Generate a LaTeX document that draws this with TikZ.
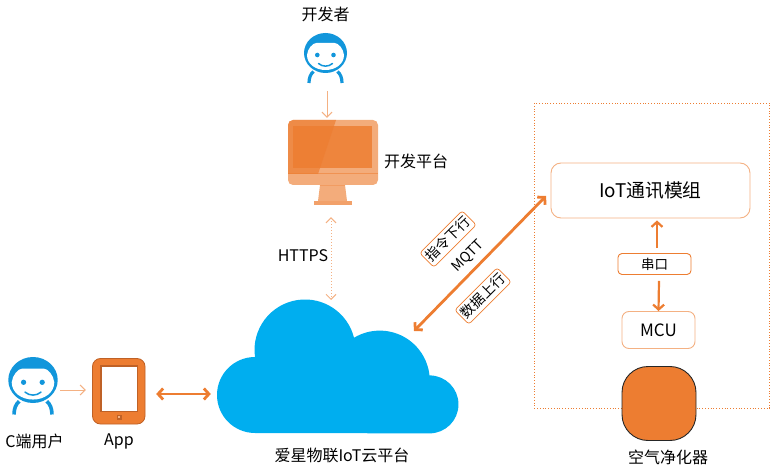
\documentclass[tikz,border=0pt]{standalone}
\usepackage{fontspec}
\setmainfont{Noto Sans CJK SC}
\usetikzlibrary{arrows.meta}
\definecolor{org}{HTML}{ED7D31}
\definecolor{lorg}{HTML}{F4B183}
\definecolor{brn}{HTML}{BF6126}
\definecolor{blu}{HTML}{1296DB}
\definecolor{sky}{HTML}{00AEEF}
\tikzset{
    spot/.style={inner sep=0pt},
    lbl/.style={inner sep=0pt,font=\fontsize{16}{18}\selectfont},
    modbox/.style={draw=lorg,line width=.9pt,fill=white,rounded corners=#1,inner sep=0pt},
    tag/.style={draw=org,line width=.7pt,fill=white,rounded corners=3pt,rotate=45,inner sep=0pt,
        minimum width=60pt,minimum height=20pt,font=\fontsize{14}{15}\selectfont},
    thin arrow/.style={draw=lorg,line width=1pt,-{Straight Barb[length=5pt,width=10pt]}},
    fat arrow/.style={draw=org,line width=2.8pt,{Straight Barb[length=5pt,width=11pt]}-{Straight Barb[length=5pt,width=11pt]}},
    mid arrow/.style={draw=org,line width=2.2pt,-{Straight Barb[length=5pt,width=11pt]}},
    person/.pic={
        \fill[blu] (0,0) ellipse [x radius=21.5,y radius=20];
        \fill[white] (-18.5,2) .. controls (-18,-4) and (-13,-10) .. (-9,-10) -- (9,-10)
            .. controls (13,-10) and (18,-4) .. (18.5,2)
            .. controls (18.5,11) and (10,17) .. (0,17)
            .. controls (-10,17) and (-18.5,11) .. cycle;
        \fill[blu] (-8.2,2) circle (2.3) (8,2) circle (2.3);
        \draw[blu,line width=1.5pt,line cap=round] (-7,10.5) .. controls (-3,14) and (3,14) .. (7,10.5);
        \draw[blu,line width=#1] (-16.5,30) .. controls (-16.5,25) and (-15,21) .. (-12,18.5);
        \draw[blu,line width=#1] (16.5,30) .. controls (16.5,25) and (15,21) .. (12,18.5);
    }
}
\begin{document}
\begin{tikzpicture}[x=1pt,y=-1pt]
    \useasboundingbox (0,0) rectangle (777,473);

    % developer and platform
    \pic at (325.5,53) {person=3.2pt};
    \fill[lorg!90!org] (288,125) arc [start angle=180,end angle=90,radius=5pt] -- (373,120)
        arc [start angle=90,end angle=0,radius=5pt] -- (378,180)
        arc [start angle=0,end angle=-90,radius=5pt] -- (293,185)
        arc [start angle=270,end angle=180,radius=5pt] -- cycle;
    \fill[org!85!lorg] (293,126) rectangle (372,168);
    \fill[org!60!lorg] (288,173) rectangle (378,174.5);
    \fill[org,opacity=.7] (293,120) -- (336,120) -- (318,174) -- (288,174) -- (288,125)
        arc [start angle=180,end angle=90,radius=5pt] -- cycle;
    \fill[lorg!90!org] (320,185) -- (345,185) -- (347,201) -- (318,201) -- cycle;
    \fill[lorg!60!org] (319.8,185) rectangle (345.2,186.5);
    \fill[lorg!70!org] (314,201) rectangle (352,205);

    % user and tablet
    \pic at (33,380) [scale=1.15] {person=3.6pt};
    \draw[brn,fill=org,line width=.8pt,rounded corners=8pt] (92.5,358.5) rectangle (145,424);
    \fill[brn] (100,365) rectangle (138,412);
    \fill[white] (101.5,367) rectangle (136.5,411);
    \fill[brn] (116.5,414.5) rectangle (121.5,419.5);
    \fill[lorg] (118,416) rectangle (120,418);

    % cloud
    \fill[sky] (255,433) arc [start angle=270,end angle=90,radius=38pt]
        arc [start angle=188,end angle=14,radius=50.5pt]
        arc [start angle=121,end angle=6,radius=50pt]
        arc [start angle=90,end angle=-90,radius=29pt] -- cycle;

    % device frame
    \draw[org,line width=.8pt,dotted] (534,103) rectangle (769.5,408);

    \node (mod) [modbox=10pt,minimum width=199pt,minimum height=55pt,font=\fontsize{18.8}{20}\selectfont] at (650.5,190.5) {IoT通讯模组};
    \node (port) [modbox=4pt,draw=org,minimum width=73pt,minimum height=21pt,font=\fontsize{13.5}{14}\selectfont] at (654.5,264) {串口};
    \node (mcu) [modbox=7pt,minimum width=73pt,minimum height=37pt,font=\fontsize{17}{18}\selectfont] at (658.5,330) {MCU};
    \node (air) [draw=black!85,line width=.9pt,fill=org,rounded corners=26pt,minimum width=74pt,minimum height=74pt,inner sep=0pt] at (659,403.5) {};

    % invisible anchors of the drawn shapes
    \node (dev) [spot,minimum width=44pt,minimum height=72pt] at (327,55) {};
    \node (plat) [spot,minimum width=90pt,minimum height=99pt] at (331,167.5) {};
    \node (user) [spot,minimum width=54pt,minimum height=60pt] at (33,390) {};
    \node (app) [spot,minimum width=54pt,minimum height=66pt] at (119,391) {};
    \node (cloud) [spot,minimum width=242pt,minimum height=78pt] at (338,394) {};
    \coordinate (cloudtop) at (331,300);
    \coordinate (cloudin) at (414,331);
    \coordinate (modin) at (546,196);

    % labels
    \node (devlbl) [lbl] at (325.5,14) {开发者};
    \node (platlbl) [lbl] at (416,161) {开发平台};
    \node (https) [lbl] at (303,256) {HTTPS};
    \node (userlbl) [lbl] at (34.5,441.5) {C端用户};
    \node (applbl) [lbl] at (119,441.5) {App};
    \node (cloudlbl) [lbl] at (342,455) {爱星物联IoT云平台};
    \node (airlbl) [lbl] at (668,457) {空气净化器};
    \node (mqtt) [lbl,rotate=45,font=\fontsize{14}{15}\selectfont] at (468,256) {MQTT};
    \node (down) [tag] at (448,239) {指令下行};
    \node (up) [tag] at (483,296) {数据上行};

    % connectors
    \draw[thin arrow] (dev.south) -- (dev.south |- plat.north);
    \draw[thin arrow,{Straight Barb[length=5pt,width=10pt]}-{Straight Barb[length=5pt,width=10pt]},dotted] (plat.south) -- (cloudtop);
    \draw[thin arrow,shorten >=6pt] (user.east) -- (user.east -| app.west);
    \draw[fat arrow,shorten <=10pt,shorten >=6pt] ([yshift=-3pt]app.east) -- (cloud.west);
    \draw[fat arrow] (cloudin) -- (modin);
    \draw[mid arrow] ([xshift=2.5pt,yshift=5pt]port.north) -- ([xshift=2.5pt,yshift=-2pt]port.north |- mod.south);
    \draw[mid arrow] ([xshift=4.5pt,yshift=-6pt]port.south) -- (mcu.north);
\end{tikzpicture}
\end{document}
